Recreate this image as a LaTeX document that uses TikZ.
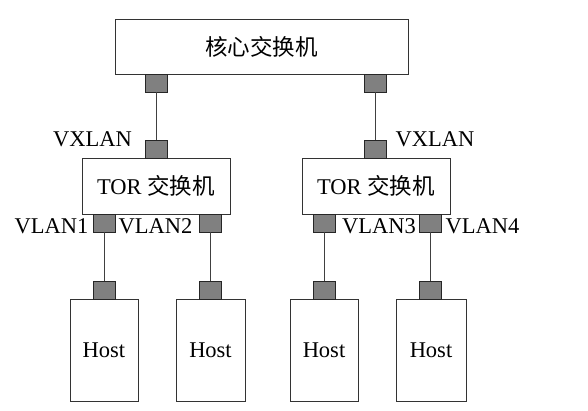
\documentclass[tikz,border=0pt]{standalone}
\usepackage{fontspec}
\setmainfont{Liberation Serif}
\newfontfamily\cjk{Noto Sans CJK SC}
\tikzset{
  box/.style={draw=black!80, line width=0.8pt, fill=white, inner sep=0pt, font=\fontsize{22.5}{26}\selectfont},
  port/.style={draw=black!85, line width=0.8pt, fill=black!50, minimum width=22pt, minimum height=18pt, inner sep=0pt},
  lbl/.style={inner sep=0pt, font=\fontsize{22.5}{26}\selectfont},
  link/.style={draw=black!75, line width=0.8pt}
}
\begin{document}
\begin{tikzpicture}[x=1pt,y=-1pt]
            \useasboundingbox (0,0) rectangle (588,411);
            %Nodes
            \node[box, minimum width=293pt, minimum height=55pt] at (261.5,46.5) (core) {\cjk 核心交换机};
            \node[port] at (156,83)    (coreL) {};
            \node[port] at (375.5,83)  (coreR) {};
            \node[box, minimum width=148pt, minimum height=56pt] at (156,186) (torL) {TOR {\cjk 交换机}};
            \node[box, minimum width=148pt, minimum height=56pt] at (376,186) (torR) {TOR {\cjk 交换机}};
            \node[port] at (156,149)   (torLup) {};
            \node[port] at (375.5,149) (torRup) {};
            \node[port] at (104,223)   (torL1) {};
            \node[port] at (210.5,223) (torL2) {};
            \node[port] at (324,223)   (torR3) {};
            \node[port] at (430.5,223) (torR4) {};
            \node[box, minimum width=68pt, minimum height=102pt] at (104,350)   (h1) {Host};
            \node[box, minimum width=69pt, minimum height=102pt] at (210.5,350) (h2) {Host};
            \node[box, minimum width=68pt, minimum height=102pt] at (324,350)   (h3) {Host};
            \node[box, minimum width=70pt, minimum height=102pt] at (431,350)   (h4) {Host};
            \node[port] at (104,290)   (h1p) {};
            \node[port] at (210.5,290) (h2p) {};
            \node[port] at (324,290)   (h3p) {};
            \node[port] at (430.5,290) (h4p) {};

            %Labels
            \node[lbl] at (92.5,139)  (vxL) {VXLAN};
            \node[lbl] at (435,139)   (vxR) {VXLAN};
            \node[lbl] at (51.5,226)  (v1)  {VLAN1};
            \node[lbl] at (155.5,226) (v2)  {VLAN2};
            \node[lbl] at (379,226)   (v3)  {VLAN3};
            \node[lbl] at (482.5,226) (v4)  {VLAN4};

            %Lines
            \draw[link] (coreL) -- (torLup);
            \draw[link] (coreR) -- (torRup);
            \draw[link] (torL1) -- (h1p);
            \draw[link] (torL2) -- (h2p);
            \draw[link] (torR3) -- (h3p);
            \draw[link] (torR4) -- (h4p);
\end{tikzpicture}
\end{document}
